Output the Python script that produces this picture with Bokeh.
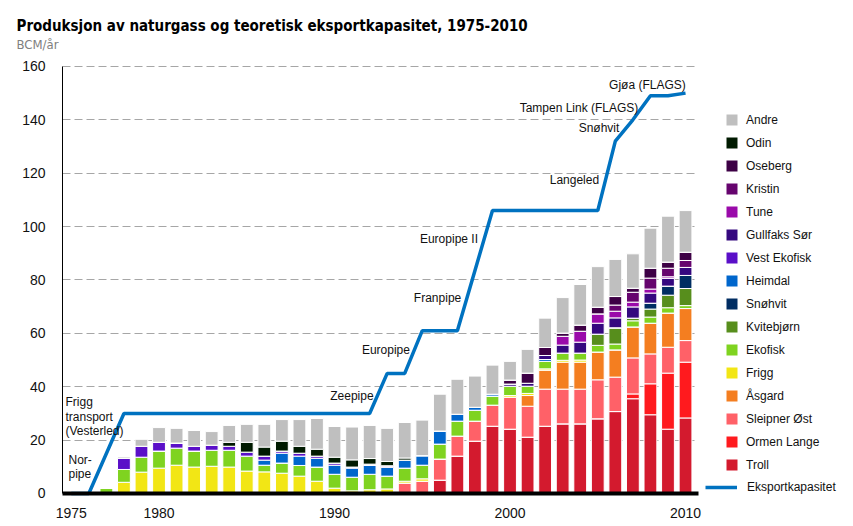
from bokeh.plotting import figure
from bokeh.models import ColumnDataSource, Legend, LegendItem, Label, FixedTicker, Grid
from bokeh.embed import file_html
from bokeh.resources import INLINE

# ---------------- data ----------------
years = list(range(1975, 2011))

troll = [0]*21 + [5.0, 14.0, 19.6, 25.2, 24.1, 21.1, 25.2, 26.1, 26.1, 28.0, 30.7, 35.5, 29.5, 24.1, 28.3]
ormen_lange = [0]*32 + [1.8, 11.6, 21.0, 20.9]
sleipner_ost = [0]*19 + [3.9, 4.6, 7.9, 7.5, 7.5, 7.9, 12.0, 11.6, 13.9, 13.0, 13.0, 14.6, 12.9, 13.5, 11.2, 9.7, 8.1]
asgard = [0]*26 + [4.0, 7.1, 10.1, 10.1, 10.4, 10.2, 11.6, 11.5, 12.8, 12.0]
frigg = [0, 0, 0, 4.2, 8.0, 9.5, 10.6, 9.9, 10.2, 9.9, 8.4, 8.1, 7.6, 6.5, 4.6, 2.0, 1.0, 1.4, 1.7, 0.7, 0.9,
         0, 0, 0, 0, 0.6, 0.8, 0.5, 0.7, 0.8, 0, 0, 0, 0, 0, 0]
ekofisk = [0, 0, 2.0, 4.8, 5.6, 6.4, 6.4, 6.0, 6.0, 6.3, 5.6, 2.5, 3.8, 4.0, 5.3, 5.2, 5.1, 5.8, 4.8, 4.9, 5.1,
           5.6, 5.6, 4.1, 3.4, 3.5, 2.7, 2.8, 2.7, 2.6, 2.5, 2.2, 2.3, 2.3, 2.0, 1.1]
kvitebjorn = [0]*30 + [4.2, 6.1, 1.0, 3.0, 4.7, 6.4]
snohvit = [0]*33 + [2.2, 3.4, 4.9]
heimdal = [0]*11 + [1.9, 3.7, 3.5, 3.3, 3.4, 3.4, 3.3, 3.3, 3.0, 3.6, 4.9, 2.6, 1.1, 0.7, 0, 0, 0.7] + [0]*8
vest_ekofisk = [0, 0, 0, 4.2, 4.1, 3.3, 1.9, 1.8, 1.9, 1.5, 1.5, 1.5, 0.8, 1.1, 0.8, 0.8, 0.4, 0.5, 0.6] + [0]*17
gullfaks_sor = [0]*25 + [0.8, 1.1, 1.5, 3.0, 4.1, 4.1, 3.7, 4.2, 3.8, 2.9, 3.0]
tune = [0]*28 + [3.3, 4.1, 3.5, 2.5, 1.8, 1.5, 0.6, 0]
kristin = [0]*31 + [2.3, 3.7, 4.1, 3.2, 2.6]
oseberg = [0]*25 + [1.5, 3.8, 3.0, 1.2, 2.3, 2.5, 3.2, 1.5, 3.7, 2.3, 3.1]
odin = [0]*9 + [1.5, 3.7, 3.4, 3.7, 2.6, 2.6, 2.2, 2.7, 2.1, 1.6, 0.8] + [0]*16
andre = [0, 0, 0, 0.5, 2.6, 5.5, 5.5, 5.9, 5.1, 6.3, 6.7, 8.5, 8.1, 10.0, 11.5, 11.5, 12.3, 12.4, 12.4, 13.3, 13.3,
         13.8, 13.1, 11.7, 10.9, 7.0, 8.9, 11.0, 13.3, 15.2, 15.2, 13.9, 12.9, 15.0, 17.2, 15.6]

cap_years = [1975, 1976, 1978, 1992, 1993, 1994, 1995, 1997, 1999, 2005, 2006, 2007, 2008, 2009, 2010]
cap_values = [0, 0, 30, 30, 45, 45, 61, 61, 106, 106, 132, 140, 149, 149, 150]

fields = ["troll", "ormen_lange", "sleipner_ost", "asgard", "frigg", "ekofisk", "kvitebjorn", "snohvit",
          "heimdal", "vest_ekofisk", "gullfaks_sor", "tune", "kristin", "oseberg", "odin", "andre"]
series_labels = ["Troll", "Ormen Lange", "Sleipner Øst", "Åsgard", "Frigg", "Ekofisk", "Kvitebjørn", "Snøhvit",
                 "Heimdal", "Vest Ekofisk", "Gullfaks Sør", "Tune", "Kristin", "Oseberg", "Odin", "Andre"]
colors = ["#D31A2E", "#FF1A1E", "#FF6168", "#F47E20", "#F2E615", "#7FD320", "#578E1C", "#002D62",
          "#0066CC", "#5A0FC8", "#35087F", "#9A0AAA", "#66046E", "#3D0045", "#001A00", "#BFBFBF"]

y_ticks = [0, 20, 40, 60, 80, 100, 120, 140, 160]
x_ticks = [1975, 1980, 1990, 2000, 2010]

title_text = "Produksjon av naturgass og teoretisk eksportkapasitet, 1975-2010"
subtitle_text = "BCM/år"

annotations = [
    ("Frigg", 1974.67, 34.1, "left"),
    ("transport", 1974.67, 28.8, "left"),
    ("(Vesterled)", 1974.67, 23.6, "left"),
    ("Nor-", 1974.84, 12.4, "left"),
    ("pipe", 1974.84, 7.4, "left"),
    ("Zeepipe", 1990.99, 36.7, "center"),
    ("Europipe", 1992.93, 53.6, "center"),
    ("Franpipe", 1995.87, 73.1, "center"),
    ("Europipe II", 1996.52, 95.2, "center"),
    ("Langeled", 2003.67, 117.3, "center"),
    ("Snøhvit", 2005.07, 136.8, "center"),
    ("Tampen Link (FLAGS)", 2003.93, 144.6, "center"),
    ("Gjøa (FLAGS)", 2007.83, 153.2, "center"),
]

FONT = "'Liberation Sans', Arial, sans-serif"
NARROW = "'Liberation Sans Narrow', 'Arial Narrow', 'DejaVu Sans Condensed', sans-serif"

X0, X1 = 1974.5, 2010.74        # extent of the drawn axes
# ---------------- figure ----------------
src = ColumnDataSource(data=dict(year=years, troll=troll, ormen_lange=ormen_lange, sleipner_ost=sleipner_ost,
                                 asgard=asgard, frigg=frigg, ekofisk=ekofisk, kvitebjorn=kvitebjorn,
                                 snohvit=snohvit, heimdal=heimdal, vest_ekofisk=vest_ekofisk,
                                 gullfaks_sor=gullfaks_sor, tune=tune, kristin=kristin, oseberg=oseberg,
                                 odin=odin, andre=andre))

p = figure(width=845, height=524, output_backend="svg", toolbar_location=None,
           x_range=(1970.967, 2019.115), y_range=(-11.615, 184.71),
           min_border_left=0, min_border_right=0, min_border_top=0, min_border_bottom=0)
p.outline_line_color = None
p.background_fill_color = "white"

p.xgrid.visible = False
p.ygrid.grid_line_color = "#A6A6A6"
p.ygrid.grid_line_dash = "8 4"
p.ygrid.grid_line_width = 1
p.ygrid.ticker = FixedTicker(ticks=y_ticks[1:])
if "cross_bounds" in Grid.properties():
    p.ygrid.cross_bounds = (X0, X1)
else:
    p.ygrid.visible = False
    p.segment(x0=[X0]*8, x1=[X1]*8, y0=y_ticks[1:], y1=y_ticks[1:], line_color="#A6A6A6",
              line_dash="8 4", line_width=1, level="underlay")

p.yaxis.fixed_location = X0
p.yaxis.ticker = FixedTicker(ticks=y_ticks)
p.yaxis.bounds = (0, 160)
p.yaxis.major_tick_line_color = None
p.yaxis.minor_tick_line_color = None
p.yaxis.axis_line_color = "black"
p.yaxis.major_label_text_font = FONT
p.yaxis.major_label_text_font_size = "14px"
p.yaxis.major_label_text_color = "#111111"
p.yaxis.major_label_standoff = 11

p.xaxis.fixed_location = 0
p.xaxis.ticker = FixedTicker(ticks=x_ticks)
p.xaxis.bounds = (X0, X1)
p.xaxis.major_tick_line_color = None
p.xaxis.minor_tick_line_color = None
p.xaxis.axis_line_color = "black"
p.xaxis.axis_line_width = 4
p.xaxis.major_label_text_font = FONT
p.xaxis.major_label_text_font_size = "14px"
p.xaxis.major_label_text_color = "#111111"
p.xaxis.major_label_standoff = 9

bars = p.vbar_stack(fields, x="year", width=0.73, source=src, fill_color=colors,
                    line_color="white", line_width=1)
cap_line = p.line(cap_years, cap_values, line_color="#0072C0", line_width=3.5)

for txt, x, y, align in annotations:
    p.add_layout(Label(x=x, y=y, text=txt, text_font=FONT, text_font_size="12px",
                       text_color="#111111", text_align=align, text_baseline="middle"))

p.add_layout(Label(x=1971.879, y=175.3, text=title_text, text_font=NARROW, text_font_size="15px",
                   text_font_style="bold", text_color="#000000", text_baseline="alphabetic"))
p.add_layout(Label(x=1971.879, y=168.4, text=subtitle_text, text_font=NARROW, text_font_size="13px",
                   text_color="#808080", text_baseline="alphabetic"))

items = [LegendItem(label=series_labels[i], renderers=[bars[i]]) for i in range(len(fields) - 1, -1, -1)]
leg = Legend(items=items, location=(724, 52), orientation="vertical",
             glyph_width=15, glyph_height=15, label_height=15, spacing=8, label_standoff=7,
             padding=0, margin=0, border_line_color=None, background_fill_alpha=0,
             label_text_font=FONT, label_text_font_size="12px", label_text_color="#111111",
             label_text_baseline="middle")
p.add_layout(leg, "center")

leg2 = Legend(items=[LegendItem(label="Eksportkapasitet", renderers=[cap_line])], location=(705, 30),
              glyph_width=32, glyph_height=10, label_height=10, label_standoff=10,
              padding=0, margin=0, border_line_color=None, background_fill_alpha=0,
              label_text_font=FONT, label_text_font_size="12px", label_text_color="#111111",
              label_text_baseline="middle")
p.add_layout(leg2, "center")

open("out.html", "w").write(file_html(p, INLINE))
